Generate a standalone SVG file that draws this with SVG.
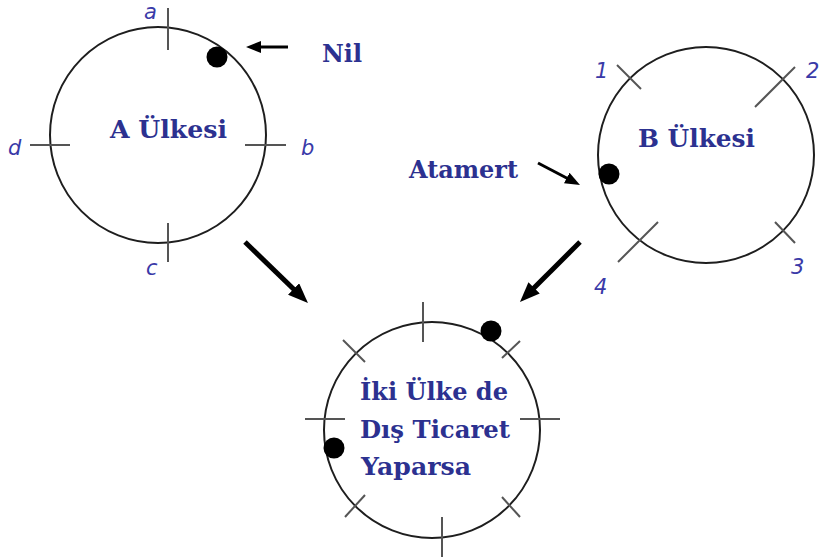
<svg xmlns="http://www.w3.org/2000/svg" width="819" height="558" viewBox="0 0 819 558">
<style>
.ring{fill:none;stroke:#1e1e1e;stroke-width:2}
.tick{stroke:#555;stroke-width:2;fill:none}
.dot{fill:#000}
.title{font-family:"DejaVu Serif","Liberation Serif",serif;font-weight:bold;font-size:24px;fill:#2c3190}
.lbl{font-family:"DejaVu Sans","Liberation Sans",sans-serif;font-style:italic;font-size:21px;fill:#3a3aa8}
.arr{stroke:#000;fill:none}
</style>
<defs>
<marker id="headBig" markerUnits="userSpaceOnUse" markerWidth="20" markerHeight="16" refX="1" refY="8" orient="auto">
<path d="M0,0 L20,8 L0,16 z" fill="#000"/>
</marker>
<marker id="headSmall" markerUnits="userSpaceOnUse" markerWidth="15" markerHeight="12" refX="1" refY="6" orient="auto">
<path d="M0,0 L15,6 L0,12 z" fill="#000"/>
</marker>
</defs>
<rect width="819" height="558" fill="#fff"/>

<g id="node-a">
<circle class="ring" cx="158" cy="135" r="108"/>
<line class="tick" x1="168" y1="8" x2="168" y2="50"/>
<line class="tick" x1="30" y1="145" x2="70" y2="145"/>
<line class="tick" x1="245" y1="145" x2="286" y2="145"/>
<line class="tick" x1="168" y1="223" x2="168" y2="262"/>
<circle class="dot" cx="217" cy="57" r="10.5"/>
<text class="title" x="110" y="138" textLength="117" lengthAdjust="spacingAndGlyphs">A Ülkesi</text>
<text class="lbl" x="144" y="19">a</text>
<text class="lbl" x="301" y="155">b</text>
<text class="lbl" x="146" y="275">c</text>
<text class="lbl" x="8" y="155">d</text>
</g>

<g id="node-nil">
<text class="title" x="322" y="62" textLength="40" lengthAdjust="spacingAndGlyphs">Nil</text>
</g>

<g id="node-b">
<circle class="ring" cx="706" cy="155" r="108"/>
<line class="tick" x1="617" y1="65" x2="641" y2="89"/>
<line class="tick" x1="795" y1="67" x2="755" y2="107"/>
<line class="tick" x1="775" y1="222" x2="795" y2="243"/>
<line class="tick" x1="658" y1="222" x2="618" y2="262"/>
<circle class="dot" cx="609" cy="174" r="10.5"/>
<text class="title" x="638" y="147" textLength="117" lengthAdjust="spacingAndGlyphs">B Ülkesi</text>
<text class="lbl" x="595" y="78">1</text>
<text class="lbl" x="806" y="78">2</text>
<text class="lbl" x="791" y="274">3</text>
<text class="lbl" x="594" y="294">4</text>
</g>

<g id="node-atamert">
<text class="title" x="409" y="178" textLength="109" lengthAdjust="spacingAndGlyphs">Atamert</text>
</g>

<g id="node-both">
<circle class="ring" cx="432" cy="430" r="108"/>
<line class="tick" x1="423" y1="302" x2="423" y2="342"/>
<line class="tick" x1="442" y1="517" x2="442" y2="557"/>
<line class="tick" x1="305" y1="419" x2="345" y2="419"/>
<line class="tick" x1="520" y1="419" x2="560" y2="419"/>
<line class="tick" x1="343" y1="340" x2="365" y2="362"/>
<line class="tick" x1="502" y1="358" x2="520" y2="341"/>
<line class="tick" x1="345" y1="517" x2="365" y2="495"/>
<line class="tick" x1="502" y1="497" x2="520" y2="517"/>
<circle class="dot" cx="491" cy="331" r="10.5"/>
<circle class="dot" cx="334" cy="448" r="10.5"/>
<text class="title" x="360" y="400" textLength="148" lengthAdjust="spacingAndGlyphs">İki Ülke de</text>
<text class="title" x="360" y="438" textLength="150" lengthAdjust="spacingAndGlyphs">Dış Ticaret</text>
<text class="title" x="361" y="475" textLength="110" lengthAdjust="spacingAndGlyphs">Yaparsa</text>
</g>

<g id="connectors">
<line class="arr" stroke-width="3" x1="288" y1="47" x2="260" y2="47" marker-end="url(#headSmall)"/>
<line class="arr" stroke-width="3" x1="538" y1="163" x2="567.6" y2="178.5" marker-end="url(#headSmall)"/>
<line class="arr" stroke-width="5" x1="245" y1="242" x2="294.3" y2="289.7" marker-end="url(#headBig)"/>
<line class="arr" stroke-width="5" x1="580" y1="242" x2="533.4" y2="288.6" marker-end="url(#headBig)"/>
</g>
</svg>
